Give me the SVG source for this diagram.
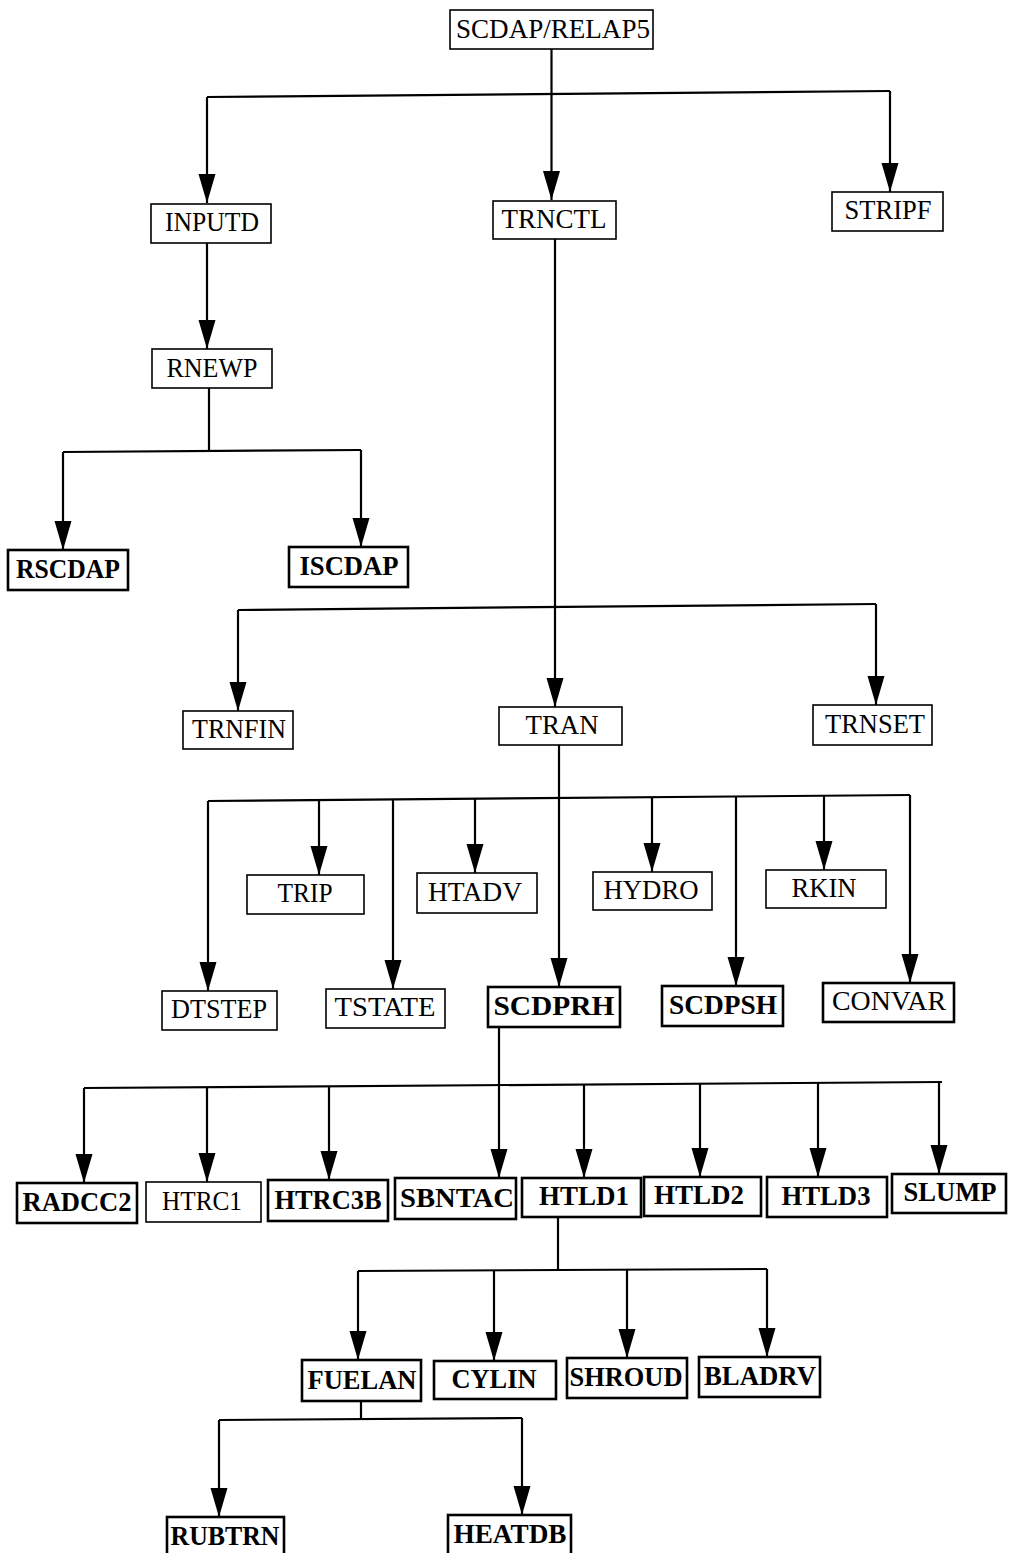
<svg xmlns="http://www.w3.org/2000/svg" width="1009" height="1553" viewBox="0 0 1009 1553">
<style>
.b{fill:#fff;stroke:#000;stroke-width:1.6}
.bb{fill:#fff;stroke:#000;stroke-width:2.6}
.t{font-family:"Liberation Serif","Times New Roman",serif;font-size:27px;text-anchor:middle;fill:#000}
.tb{font-family:"Liberation Serif","Times New Roman",serif;font-size:28px;font-weight:bold;text-anchor:middle;fill:#000}
.c{fill:none;stroke:#000;stroke-width:2.2}
.a{fill:none;stroke:#000;stroke-width:2.2;marker-end:url(#ah)}
</style>
<defs>
<marker id="ah" markerUnits="userSpaceOnUse" viewBox="0 -9 29 18" refX="29" refY="0" markerWidth="29" markerHeight="18" orient="auto">
<path d="M0,-8.5 L29,0 L0,8.5 Z" fill="#000"/>
</marker>
</defs>
<rect width="1009" height="1553" fill="#fff"/>
<g id="connectors">
<line class="a" x1="551.5" y1="49" x2="551.5" y2="200"/>
<polyline class="c" points="207,97 890,91"/>
<line class="a" x1="207" y1="97" x2="207" y2="203"/>
<line class="a" x1="890" y1="91" x2="890" y2="192"/>
<line class="a" x1="207" y1="243" x2="207" y2="349"/>
<line class="c" x1="209" y1="388" x2="209" y2="452"/>
<polyline class="c" points="63,452 361,450"/>
<line class="a" x1="63" y1="452" x2="63" y2="550"/>
<line class="a" x1="361" y1="450" x2="361" y2="547"/>
<line class="a" x1="555" y1="239" x2="555" y2="707"/>
<polyline class="c" points="238,610 876,604"/>
<line class="a" x1="238" y1="610" x2="238" y2="711"/>
<line class="a" x1="876" y1="604" x2="876" y2="705"/>
<line class="a" x1="559" y1="745" x2="559" y2="987"/>
<polyline class="c" points="208,801 910,795"/>
<line class="a" x1="208" y1="801" x2="208" y2="991"/>
<line class="a" x1="319" y1="800" x2="319" y2="875"/>
<line class="a" x1="393" y1="799" x2="393" y2="989"/>
<line class="a" x1="475" y1="798" x2="475" y2="873"/>
<line class="a" x1="652" y1="797" x2="652" y2="872"/>
<line class="a" x1="736" y1="797" x2="736" y2="986"/>
<line class="a" x1="824" y1="796" x2="824" y2="870"/>
<line class="a" x1="910" y1="795" x2="910" y2="983"/>
<line class="c" x1="499" y1="1027" x2="499" y2="1086"/>
<polyline class="c" points="84,1088 942,1082"/>
<line class="a" x1="84" y1="1088" x2="84" y2="1183"/>
<line class="a" x1="207" y1="1087" x2="207" y2="1182"/>
<line class="a" x1="329" y1="1086" x2="329" y2="1180"/>
<line class="a" x1="499" y1="1085" x2="499" y2="1178"/>
<line class="a" x1="584" y1="1085" x2="584" y2="1178"/>
<line class="a" x1="700" y1="1084" x2="700" y2="1177"/>
<line class="a" x1="818" y1="1083" x2="818" y2="1177"/>
<line class="a" x1="939" y1="1082" x2="939" y2="1174"/>
<line class="c" x1="558" y1="1217" x2="558" y2="1270"/>
<polyline class="c" points="358,1271 767,1269"/>
<line class="a" x1="358" y1="1271" x2="358" y2="1360"/>
<line class="a" x1="494" y1="1270" x2="494" y2="1361"/>
<line class="a" x1="627" y1="1270" x2="627" y2="1358"/>
<line class="a" x1="767" y1="1269" x2="767" y2="1357"/>
<line class="c" x1="361" y1="1401" x2="361" y2="1420"/>
<polyline class="c" points="219,1420 522,1418"/>
<line class="a" x1="219" y1="1420" x2="219" y2="1517"/>
<line class="a" x1="522" y1="1418" x2="522" y2="1515"/>
</g>
<g id="n_scdap"><rect class="b" x="450" y="10" width="203" height="39"/><text class="t" x="553" y="38" textLength="194" lengthAdjust="spacingAndGlyphs">SCDAP/RELAP5</text></g>
<g id="n_inputd"><rect class="b" x="151" y="204" width="120" height="39"/><text class="t" x="212" y="231" textLength="94" lengthAdjust="spacingAndGlyphs">INPUTD</text></g>
<g id="n_trnctl"><rect class="b" x="493" y="201" width="123" height="38"/><text class="t" x="554" y="228" textLength="105" lengthAdjust="spacingAndGlyphs">TRNCTL</text></g>
<g id="n_stripf"><rect class="b" x="832" y="192" width="111" height="39"/><text class="t" x="888" y="219" textLength="87" lengthAdjust="spacingAndGlyphs">STRIPF</text></g>
<g id="n_rnewp"><rect class="b" x="152" y="349" width="120" height="39"/><text class="t" x="212" y="377" textLength="91" lengthAdjust="spacingAndGlyphs">RNEWP</text></g>
<g id="n_rscdap"><rect class="bb" x="8" y="550" width="120" height="40"/><text class="tb" x="68" y="578" textLength="104" lengthAdjust="spacingAndGlyphs">RSCDAP</text></g>
<g id="n_iscdap"><rect class="bb" x="289" y="547" width="119" height="40"/><text class="tb" x="349" y="575" textLength="99" lengthAdjust="spacingAndGlyphs">ISCDAP</text></g>
<g id="n_trnfin"><rect class="b" x="183" y="711" width="110" height="38"/><text class="t" x="239" y="738" textLength="94" lengthAdjust="spacingAndGlyphs">TRNFIN</text></g>
<g id="n_tran"><rect class="b" x="499" y="707" width="123" height="38"/><text class="t" x="562" y="734" textLength="73" lengthAdjust="spacingAndGlyphs">TRAN</text></g>
<g id="n_trnset"><rect class="b" x="813" y="705" width="119" height="40"/><text class="t" x="875" y="733" textLength="100" lengthAdjust="spacingAndGlyphs">TRNSET</text></g>
<g id="n_trip"><rect class="b" x="247" y="875" width="117" height="39"/><text class="t" x="305" y="902" textLength="55" lengthAdjust="spacingAndGlyphs">TRIP</text></g>
<g id="n_htadv"><rect class="b" x="417" y="873" width="120" height="40"/><text class="t" x="475" y="901" textLength="94" lengthAdjust="spacingAndGlyphs">HTADV</text></g>
<g id="n_hydro"><rect class="b" x="593" y="872" width="119" height="38"/><text class="t" x="651" y="899" textLength="95" lengthAdjust="spacingAndGlyphs">HYDRO</text></g>
<g id="n_rkin"><rect class="b" x="766" y="870" width="120" height="38"/><text class="t" x="824" y="897" textLength="65" lengthAdjust="spacingAndGlyphs">RKIN</text></g>
<g id="n_dtstep"><rect class="b" x="162" y="991" width="115" height="39"/><text class="t" x="219" y="1018" textLength="96" lengthAdjust="spacingAndGlyphs">DTSTEP</text></g>
<g id="n_tstate"><rect class="b" x="326" y="989" width="119" height="39"/><text class="t" x="385" y="1016" textLength="101" lengthAdjust="spacingAndGlyphs">TSTATE</text></g>
<g id="n_scdprh"><rect class="bb" x="488" y="987" width="132" height="40"/><text class="tb" x="554" y="1015" textLength="121" lengthAdjust="spacingAndGlyphs">SCDPRH</text></g>
<g id="n_scdpsh"><rect class="bb" x="662" y="986" width="121" height="40"/><text class="tb" x="723" y="1014" textLength="108" lengthAdjust="spacingAndGlyphs">SCDPSH</text></g>
<g id="n_convar"><rect class="bb" x="823" y="983" width="131" height="39"/><text class="t" x="889" y="1010" textLength="114" lengthAdjust="spacingAndGlyphs">CONVAR</text></g>
<g id="n_radcc2"><rect class="bb" x="17" y="1183" width="120" height="40"/><text class="tb" x="77" y="1211" textLength="109" lengthAdjust="spacingAndGlyphs">RADCC2</text></g>
<g id="n_htrc1"><rect class="b" x="146" y="1182" width="115" height="40"/><text class="t" x="202" y="1210" textLength="80" lengthAdjust="spacingAndGlyphs">HTRC1</text></g>
<g id="n_htrc3b"><rect class="bb" x="268" y="1180" width="120" height="41"/><text class="tb" x="328" y="1209" textLength="107" lengthAdjust="spacingAndGlyphs">HTRC3B</text></g>
<g id="n_sbntac"><rect class="bb" x="395" y="1178" width="121" height="41"/><text class="tb" x="457" y="1207" textLength="114" lengthAdjust="spacingAndGlyphs">SBNTAC</text></g>
<g id="n_htld1"><rect class="bb" x="522" y="1178" width="119" height="39"/><text class="tb" x="584" y="1205" textLength="90" lengthAdjust="spacingAndGlyphs">HTLD1</text></g>
<g id="n_htld2"><rect class="bb" x="644" y="1177" width="117" height="39"/><text class="tb" x="699" y="1204" textLength="90" lengthAdjust="spacingAndGlyphs">HTLD2</text></g>
<g id="n_htld3"><rect class="bb" x="767" y="1177" width="120" height="40"/><text class="tb" x="826" y="1205" textLength="89" lengthAdjust="spacingAndGlyphs">HTLD3</text></g>
<g id="n_slump"><rect class="bb" x="892" y="1174" width="114" height="39"/><text class="tb" x="950" y="1201" textLength="93" lengthAdjust="spacingAndGlyphs">SLUMP</text></g>
<g id="n_fuelan"><rect class="bb" x="302" y="1360" width="119" height="41"/><text class="tb" x="362" y="1389" textLength="109" lengthAdjust="spacingAndGlyphs">FUELAN</text></g>
<g id="n_cylin"><rect class="bb" x="434" y="1361" width="122" height="38"/><text class="tb" x="494" y="1388" textLength="85" lengthAdjust="spacingAndGlyphs">CYLIN</text></g>
<g id="n_shroud"><rect class="bb" x="567" y="1358" width="120" height="40"/><text class="tb" x="626" y="1386" textLength="113" lengthAdjust="spacingAndGlyphs">SHROUD</text></g>
<g id="n_bladrv"><rect class="bb" x="699" y="1357" width="121" height="40"/><text class="tb" x="760" y="1385" textLength="112" lengthAdjust="spacingAndGlyphs">BLADRV</text></g>
<g id="n_rubtrn"><rect class="bb" x="167" y="1517" width="117" height="44"/><text class="tb" x="225" y="1545" textLength="109" lengthAdjust="spacingAndGlyphs">RUBTRN</text></g>
<g id="n_heatdb"><rect class="bb" x="448" y="1515" width="123" height="44"/><text class="tb" x="510" y="1543" textLength="113" lengthAdjust="spacingAndGlyphs">HEATDB</text></g>
</svg>
